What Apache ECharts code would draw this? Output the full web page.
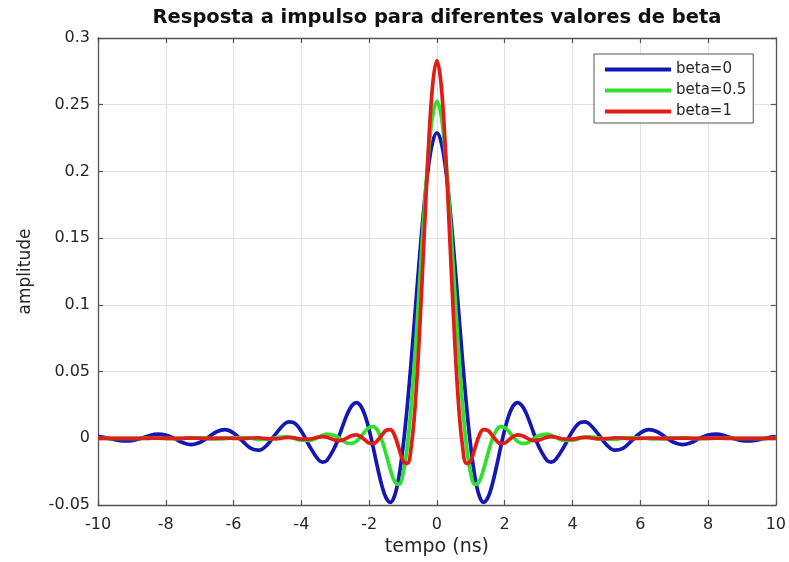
<!DOCTYPE html>
<html lang="pt">
<head>
<meta charset="utf-8">
<title>Resposta a impulso</title>
<script src="https://cdn.jsdelivr.net/npm/echarts@6/dist/echarts.min.js"></script>
<style>
  html, body { margin: 0; padding: 0; background: #ffffff; }
  #grafico { width: 789px; height: 562px; }
</style>
</head>
<body>
<div id="grafico"></div>
<script>
// Texto do gráfico
const titulo = 'Resposta a impulso para diferentes valores de beta';
const rotuloX = 'tempo (ns)';
const rotuloY = 'amplitude';
const legendas = ['beta=0', 'beta=0.5', 'beta=1'];

// Instantes de tempo (ns)
const tempo = [
  -10, -9.75, -9.5, -9.25, -9, -8.75, -8.5, -8.25, -8, -7.75, -7.5, -7.25, -7, -6.75,
  -6.5, -6.25, -6, -5.75, -5.5, -5.25, -5, -4.75, -4.5, -4.375, -4.25, -4, -3.75, -3.5,
  -3.375, -3.25,
  -3, -2.875, -2.75, -2.625, -2.5, -2.375, -2.25, -2.125, -2, -1.875, -1.75, -1.625,
  -1.5, -1.375, -1.25, -1.125, -1, -0.875, -0.75, -0.625, -0.5, -0.375, -0.25, -0.125,
  0,
  0.125, 0.25, 0.375, 0.5, 0.625, 0.75, 0.875, 1, 1.125, 1.25, 1.375, 1.5, 1.625,
  1.75, 1.875, 2, 2.125, 2.25, 2.375, 2.5, 2.625, 2.75, 2.875, 3,
  3.25, 3.375, 3.5, 3.75, 4, 4.25, 4.375, 4.5, 4.75, 5, 5.25, 5.5, 5.75, 6, 6.25, 6.5,
  6.75, 7, 7.25, 7.5, 7.75, 8, 8.25, 8.5, 8.75, 9, 9.25, 9.5, 9.75, 10
];

// Amplitude para beta = 0
const beta0 = [
  0.0012, 0.0003, -0.0011, -0.0020, -0.0017, -0.0002, 0.0019, 0.0031, 0.0024, -0.0001,
  -0.0032, -0.0047, -0.0032, 0.0007, 0.0049, 0.0065, 0.0039, -0.0018, -0.0073, -0.0089,
  -0.0047, 0.0035, 0.0107, 0.0123, 0.0120, 0.0053, -0.0063, -0.0160, -0.0178, -0.0167,
  -0.0059, 0.0025, 0.0113, 0.0193, 0.0248, 0.0268, 0.0243, 0.0174, 0.0064, -0.0074,
  -0.0221, -0.0353, -0.0447, -0.0480, -0.0432, -0.0294, -0.0067, 0.0239, 0.0605, 0.1001,
  0.1395, 0.1750, 0.2035, 0.2221,
  0.229,
  0.2221, 0.2035, 0.1750, 0.1395, 0.1001, 0.0605, 0.0239, -0.0067, -0.0294, -0.0432,
  -0.0480, -0.0447, -0.0353, -0.0221, -0.0074, 0.0064, 0.0174, 0.0243, 0.0268, 0.0248,
  0.0193, 0.0113, 0.0025, -0.0059,
  -0.0167, -0.0178, -0.0160, -0.0063, 0.0053, 0.0120, 0.0123, 0.0107, 0.0035, -0.0047,
  -0.0089, -0.0073, -0.0018, 0.0039, 0.0065, 0.0049, 0.0007, -0.0032, -0.0047, -0.0032,
  -0.0001, 0.0024, 0.0031, 0.0019, -0.0002, -0.0017, -0.0020, -0.0011, 0.0003, 0.0012
];

// Amplitude para beta = 0.5
const beta05 = [
  0.0000, 0.0000, 0.0000, -0.0001, -0.0001, 0.0000, 0.0001, 0.0001, -0.0001, -0.0002,
  -0.0001, 0.0003, 0.0003, 0.0000, -0.0004, -0.0002, 0.0004, 0.0006, 0.0000, -0.0008,
  -0.0007, 0.0004, 0.0011, 0.0009, 0.0002, -0.0014, -0.0015, 0.0008, 0.0022, 0.0031,
  0.0019, 0.0000, -0.0021, -0.0037, -0.0038, -0.0022, 0.0011, 0.0050, 0.0081, 0.0088,
  0.0058, -0.0014, -0.0119, -0.0233, -0.0322, -0.0346, -0.0267, -0.0063, 0.0270, 0.0709,
  0.1208, 0.1706, 0.2130, 0.2418,
  0.2525,
  0.2418, 0.2130, 0.1706, 0.1208, 0.0709, 0.0270, -0.0063, -0.0267, -0.0346, -0.0322,
  -0.0233, -0.0119, -0.0014, 0.0058, 0.0088, 0.0081, 0.0050, 0.0011, -0.0022, -0.0038,
  -0.0037, -0.0021, 0.0000, 0.0019,
  0.0031, 0.0022, 0.0008, -0.0015, -0.0014, 0.0002, 0.0009, 0.0011, 0.0004, -0.0007,
  -0.0008, 0.0000, 0.0006, 0.0004, -0.0002, -0.0004, 0.0000, 0.0003, 0.0003, -0.0001,
  -0.0002, -0.0001, 0.0001, 0.0001, 0.0000, -0.0001, -0.0001, 0.0000, 0.0000, 0.0000
];

// Amplitude para beta = 1
const beta1 = [
  0.0000, 0.0000, 0.0000, 0.0000, 0.0000, -0.0001, 0.0000, 0.0001, 0.0000, -0.0001,
  0.0000, 0.0001, 0.0000, -0.0002, 0.0001, 0.0002, -0.0001, -0.0003, 0.0002, 0.0004,
  -0.0003, -0.0004, 0.0004, 0.0007, 0.0005, -0.0006, -0.0006, 0.0009, 0.0012, 0.0008,
  -0.0014, -0.0017, -0.0010, 0.0006, 0.0021, 0.0026, 0.0013, -0.0012, -0.0035, -0.0039,
  -0.0016, 0.0024, 0.0059, 0.0065, 0.0022, -0.0072, -0.0169, -0.0188, -0.0047, 0.0304,
  0.0856, 0.1524, 0.2174, 0.2650,
  0.283,
  0.2650, 0.2174, 0.1524, 0.0856, 0.0304, -0.0047, -0.0188, -0.0169, -0.0072, 0.0022,
  0.0065, 0.0059, 0.0024, -0.0016, -0.0039, -0.0035, -0.0012, 0.0013, 0.0026, 0.0021,
  0.0006, -0.0010, -0.0017, -0.0014,
  0.0008, 0.0012, 0.0009, -0.0006, -0.0006, 0.0005, 0.0007, 0.0004, -0.0004, -0.0003,
  0.0004, 0.0002, -0.0003, -0.0001, 0.0002, 0.0001, -0.0002, 0.0000, 0.0001, 0.0000,
  -0.0001, 0.0000, 0.0001, 0.0000, -0.0001, 0.0000, 0.0000, 0.0000, 0.0000, 0.0000
];

// Limites e divisões dos eixos
const eixoX = { min: -10, max: 10, passo: 2 };
const eixoY = { min: -0.05, max: 0.3, passo: 0.05 };

const cores = ['#1616b4', '#2fe02f', '#e21d17'];

const fonte = 'DejaVu Sans';
const corTexto = '#262626';
const corEixo = '#555555';
const corGrade = '#e2e2e2';

function pares(xs, ys) {
  return xs.map(function (x, i) { return [x, ys[i]]; });
}

function eixoBase(lim, posicao, principal) {
  return {
    type: 'value',
    min: lim.min,
    max: lim.max,
    interval: lim.passo,
    position: posicao,
    axisLine: { show: true, onZero: false, lineStyle: { color: corEixo, width: 1.3 } },
    axisTick: { show: true, inside: true, length: 5, lineStyle: { color: corEixo, width: 1.2 } },
    axisLabel: {
      show: principal,
      fontFamily: fonte,
      fontSize: 16,
      color: corTexto
    },
    splitLine: { show: principal, lineStyle: { color: corGrade, width: 1 } }
  };
}

const xInferior = eixoBase(eixoX, 'bottom', true);
xInferior.name = rotuloX;
xInferior.nameLocation = 'middle';
xInferior.nameGap = 33;
xInferior.nameTextStyle = { fontFamily: fonte, fontSize: 19, color: corTexto };
xInferior.axisLabel.margin = 12;

const yEsquerdo = eixoBase(eixoY, 'left', true);
yEsquerdo.name = rotuloY;
yEsquerdo.nameLocation = 'middle';
yEsquerdo.nameRotate = 90;
yEsquerdo.nameGap = 64;
yEsquerdo.nameTextStyle = { fontFamily: fonte, fontSize: 17, color: corTexto };
yEsquerdo.axisLabel.margin = 8;

const series = [beta0, beta05, beta1].map(function (valores, i) {
  return {
    name: legendas[i],
    type: 'line',
    data: pares(tempo, valores),
    symbol: 'none',
    showSymbol: false,
    smooth: 0.4,
    clip: true,
    lineStyle: { width: 3.7, color: cores[i] },
    itemStyle: { color: cores[i] },
    z: 2 + i
  };
});

const grafico = echarts.init(document.getElementById('grafico'), null, { renderer: 'canvas' });
grafico.setOption({
  animation: false,
  backgroundColor: '#ffffff',
  title: {
    text: titulo,
    left: 437,
    top: 8,
    textAlign: 'center',
    padding: 0,
    textStyle: { fontFamily: fonte, fontWeight: 'bold', fontSize: 19.5, color: '#111111' }
  },
  legend: {
    data: legendas,
    orient: 'vertical',
    left: 594,
    top: 54,
    padding: [5, 7, 1, 11],
    itemGap: 0,
    itemWidth: 66,
    itemHeight: 4,
    icon: 'rect',
    backgroundColor: '#ffffff',
    borderColor: '#555555',
    borderWidth: 1,
    borderRadius: 0,
    textStyle: { fontFamily: fonte, fontSize: 15, lineHeight: 21, color: corTexto }
  },
  grid: { left: 98, right: 13, top: 38, bottom: 56, containLabel: false },
  xAxis: [xInferior, eixoBase(eixoX, 'top', false)],
  yAxis: [yEsquerdo, eixoBase(eixoY, 'right', false)],
  series: series
});
</script>
</body>
</html>
